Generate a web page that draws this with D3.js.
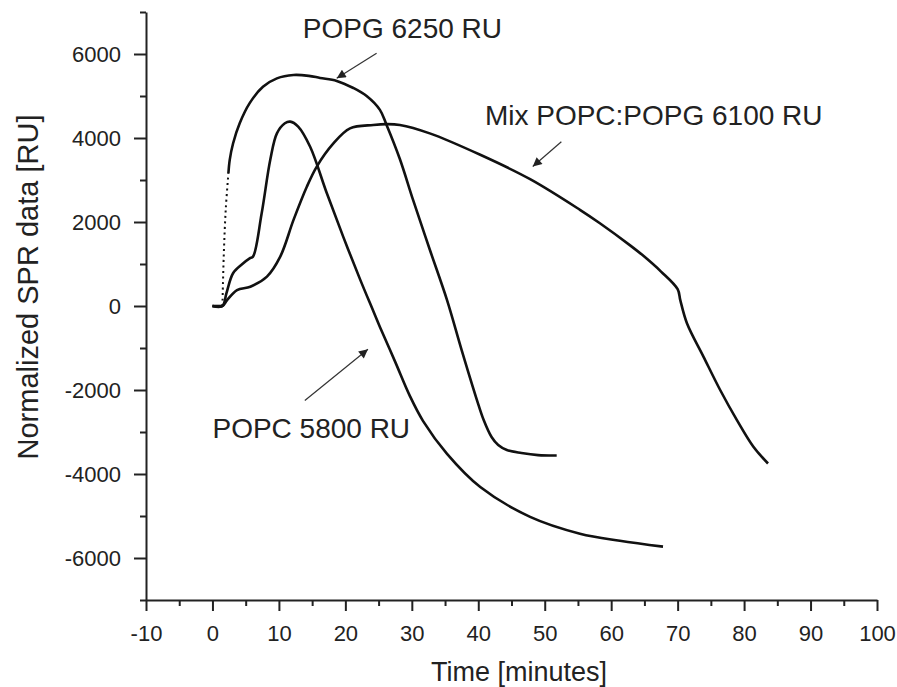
<!DOCTYPE html>
<html>
<head>
<meta charset="utf-8">
<script src="https://cdn.jsdelivr.net/npm/d3@7"></script>
<style>
  body { margin: 0; background: #fff; }
  svg { display: block; font-family: "Liberation Sans", Arial, sans-serif; }
</style>
</head>
<body>
<div class="canvas"></div>
<script>
// Data (time in minutes, response in RU)
const popgTime = [0, 1.5, 1.7, 2.0, 2.4, 2.6, 3.1, 4.1, 5.6, 7.6, 9.7, 12.2, 14.5, 16.2, 18.7, 21.2, 23.2, 25.2, 26.2, 28.2, 30.2, 32.7, 35.3, 37.5, 39.8, 40.8, 42.0, 43.0, 44.3, 46.5, 49.0, 51.8];
const popgValue = [0, 0, 1200, 2300, 3160, 3480, 3870, 4350, 4830, 5220, 5420, 5500, 5480, 5430, 5360, 5190, 5000, 4670, 4310, 3500, 2520, 1345, 140, -1050, -2240, -2710, -3120, -3310, -3430, -3500, -3550, -3560];
const popgDottedUntil = 2.4; // early sparse points drawn as dots

const popcTime = [0, 1.5, 2.1, 3.1, 4.5, 5.6, 6.1, 7.4, 8.7, 9.7, 10.9, 11.7, 12.9, 14.7, 17.2, 19.7, 22.2, 24.2, 25.2, 27.5, 29.7, 31.7, 35.3, 40.3, 47.8, 55.3, 61.3, 67.8];
const popcValue = [0, 0, 300, 780, 1000, 1135, 1175, 2200, 3480, 4110, 4350, 4390, 4270, 3790, 2690, 1640, 640, -120, -500, -1330, -2140, -2740, -3520, -4310, -5020, -5420, -5590, -5730];

const mixTime = [0, 1.5, 2.2, 3.7, 5.7, 8.2, 10.2, 12.2, 14.2, 15.7, 18.2, 20.7, 24.2, 26.2, 28.2, 32.7, 40.3, 47.8, 55.3, 58.3, 62.8, 64.8, 67.5, 70.0, 70.4, 71.4, 73.9, 76.4, 78.9, 81.4, 83.6];
const mixValue = [0, 0, 140, 380, 460, 700, 1175, 2050, 2840, 3320, 3870, 4230, 4310, 4330, 4310, 4110, 3600, 3020, 2290, 1970, 1450, 1200, 820, 400, 140, -410, -1210, -2000, -2710, -3350, -3750];

const xTicks = [-10, 0, 10, 20, 30, 40, 50, 60, 70, 80, 90, 100];
const xMinorTicks = [-5, 5, 15, 25, 35, 45, 55, 65, 75, 85, 95];
const yTicks = [-6000, -4000, -2000, 0, 2000, 4000, 6000];
const yMinorTicks = [-7000, -5000, -3000, -1000, 1000, 3000, 5000, 7000];

// Annotations: label text, label anchor, arrow start and arrow tip (data units)
const labelText = ['POPG 6250 RU', 'Mix POPC:POPG 6100 RU', 'POPC 5800 RU'];
const labelAt = [[13.6, 6370], [41.0, 4310], [0.0, -3150]];
const arrowFrom = [[24.7, 6020], [52.5, 3910], [13.9, -2250]];
const arrowTo = [[18.7, 5420], [48.2, 3320], [23.4, -1030]];

const svgWidth = 897;
const svgHeight = 687;

const svg = d3.select('.canvas')
    .append('svg')
    .attr('width', svgWidth)
    .attr('height', svgHeight);

const x = d3.scaleLinear().domain([-10, 100]).range([146, 877]);
const y = d3.scaleLinear().domain([-7000, 7000]).range([600, 12]);

// arrow head marker
svg.append('defs').append('marker')
    .attr('id', 'head')
    .attr('viewBox', '0 0 10 10')
    .attr('refX', 10)
    .attr('refY', 5)
    .attr('markerWidth', 12)
    .attr('markerHeight', 9)
    .attr('markerUnits', 'userSpaceOnUse')
    .attr('orient', 'auto')
    .append('path')
    .attr('d', 'M0,0 L10,5 L0,10 Z')
    .attr('fill', '#222');

// Axes
const plain = d => String(d); // hyphen minus, no thousands comma
const xAxisGroup = svg.append('g').attr('transform', `translate(0, ${y(-7000)})`);
const yAxisGroup = svg.append('g').attr('transform', `translate(${x(-10)}, 0)`);

xAxisGroup.call(d3.axisBottom(x).tickValues(xTicks).tickFormat(plain).tickSizeInner(11).tickSizeOuter(0).tickPadding(14));
xAxisGroup.append('g').call(d3.axisBottom(x).tickValues(xMinorTicks).tickSize(6).tickFormat(''))
    .select('.domain').remove();
yAxisGroup.call(d3.axisLeft(y).tickValues(yTicks).tickFormat(plain).tickSizeInner(12).tickSizeOuter(0).tickPadding(13));
yAxisGroup.append('g').call(d3.axisLeft(y).tickValues(yMinorTicks).tickSize(6).tickFormat(''))
    .select('.domain').remove();

svg.selectAll('.domain, .tick line')
    .attr('stroke', '#222')
    .attr('stroke-width', 2);
svg.selectAll('.tick text')
    .attr('font-family', '"Liberation Sans", Arial, sans-serif')
    .attr('font-size', 22)
    .attr('fill', '#222');

// Axis titles
svg.append('text')
    .attr('x', 519)
    .attr('y', 681)
    .attr('text-anchor', 'middle')
    .attr('font-size', 27)
    .attr('fill', '#222')
    .text('Time [minutes]');

svg.append('text')
    .attr('transform', 'translate(38, 287) rotate(-90)')
    .attr('text-anchor', 'middle')
    .attr('font-size', 29)
    .attr('fill', '#222')
    .text('Normalized SPR data [RU]');

// Curves
const line = d3.line()
    .x(d => x(d[0]))
    .y(d => y(d[1]))
    .curve(d3.curveCatmullRom.alpha(0.5));

const zip = (ts, vs) => ts.map((t, i) => [t, vs[i]]);
const popg = zip(popgTime, popgValue);
const popc = zip(popcTime, popcValue);
const mix = zip(mixTime, mixValue);

const curves = svg.append('g')
    .attr('fill', 'none')
    .attr('stroke', '#111')
    .attr('stroke-linejoin', 'round');

curves.append('path').attr('d', line(popc)).attr('stroke-width', 2.6);
curves.append('path').attr('d', line(mix)).attr('stroke-width', 2.6);

// POPG: flat start, dotted fast rise, then solid
const popgFlat = popg.filter(d => d[0] <= 1.5);
const popgRise = popg.filter(d => d[0] >= 1.5 && d[0] <= popgDottedUntil);
const popgRest = popg.filter(d => d[0] >= popgDottedUntil);
curves.append('path').attr('d', line(popgFlat)).attr('stroke-width', 2.6);
curves.append('path').attr('d', line(popgRise))
    .attr('stroke-width', 2)
    .attr('stroke-dasharray', '2,3.5');
curves.append('path').attr('d', line(popgRest)).attr('stroke-width', 2.6);

// Annotations
labelText.forEach((txt, i) => {
    svg.append('text')
        .attr('x', x(labelAt[i][0]))
        .attr('y', y(labelAt[i][1]))
        .attr('font-size', 28)
        .attr('fill', '#222')
        .text(txt);
    svg.append('line')
        .attr('x1', x(arrowFrom[i][0]))
        .attr('y1', y(arrowFrom[i][1]))
        .attr('x2', x(arrowTo[i][0]))
        .attr('y2', y(arrowTo[i][1]))
        .attr('stroke', '#333')
        .attr('stroke-width', 1.2)
        .attr('marker-end', 'url(#head)');
});
</script>
</body>
</html>
